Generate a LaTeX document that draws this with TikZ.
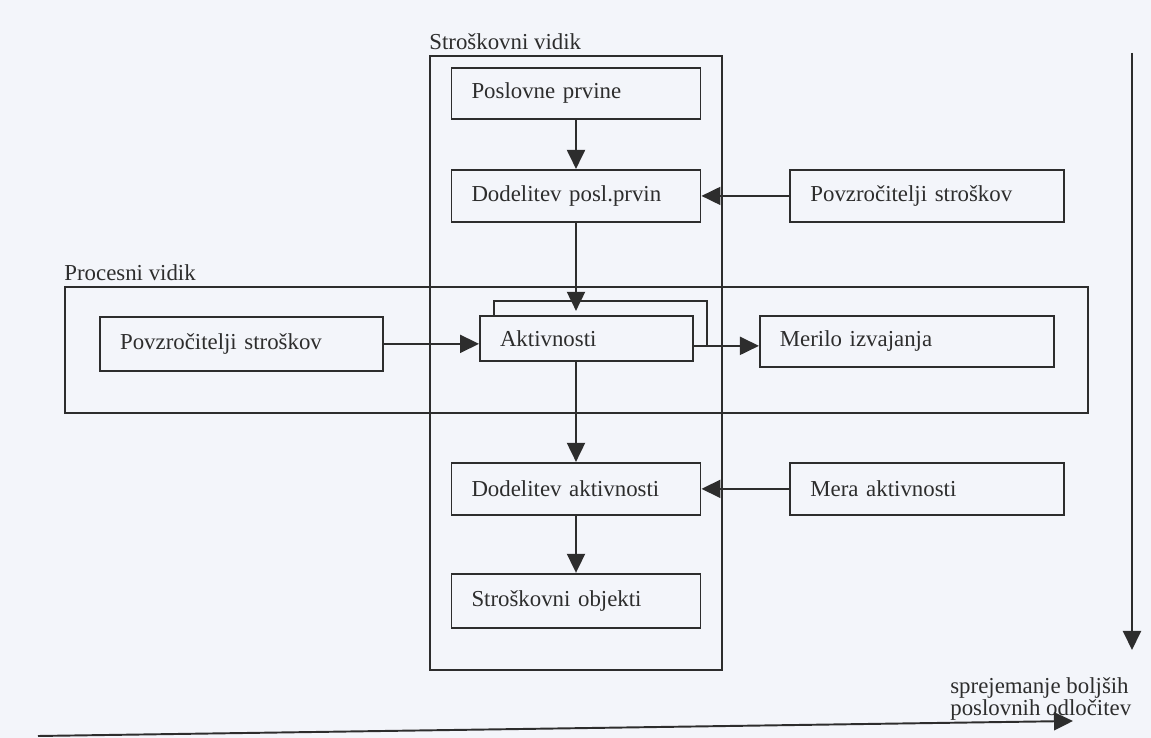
\documentclass[tikz,border=0pt]{standalone}
\usepackage{fontspec}
\setmainfont{Liberation Serif}
\usetikzlibrary{arrows.meta,positioning,shadows}
\definecolor{paper}{RGB}{243,245,250}
\definecolor{ink}{RGB}{45,45,45}

\begin{document}
\begin{tikzpicture}[
    font=\fontsize{13}{15.6}\selectfont,
    text=ink,
    elem/.style={rectangle, draw=ink, fill=paper, line width=1.1pt, text width=4.18cm, align=left, inner xsep=0.4cm, minimum height=1.04cm},
    outer/.style={elem, text width=4.68cm},
    view/.style={rectangle, draw=ink, line width=1.1pt, inner sep=0pt},
    tag/.style={anchor=south west, inner xsep=0pt, inner ysep=0.09cm},
    arrow/.style={-{Triangle[length=0.38cm,width=0.36cm]}, draw=ink, line width=1.1pt}
]
    \path[use as bounding box, fill=paper] (0,0) rectangle (23.02,-14.76);

    \node[view, minimum width=20.46cm, minimum height=2.52cm, label={[tag]north west:Procesni vidik}] (pv) at (11.53,-7.0) {};
    \node[view, minimum width=5.84cm, minimum height=12.28cm, label={[tag]north west:Stroškovni vidik}] (sv) at (11.52,-7.26) {};

    \node[elem, minimum height=1.02cm] (pp) at (11.52,-1.87) {Poslovne prvine};
    \node[elem, below=0.98cm of pp] (dp) {Dodelitev posl.prvin};
    \node[outer, right=1.76cm of dp] (pzd) {Povzročitelji stroškov};

    \node[elem, text width=3.46cm, minimum height=0.9cm, below=1.84cm of dp, xshift=0.21cm,
          copy shadow={shadow xshift=0.28cm, shadow yshift=0.3cm, draw=ink, fill=paper, line width=1.1pt}] (akt) {Aktivnosti};
    \node[elem, text width=5.08cm, minimum height=1.02cm, right=1.3cm of akt, yshift=-0.06cm] (mi) {Merilo izvajanja};
    \node[elem, text width=4.86cm, minimum height=1.08cm, left=1.9cm of akt, yshift=-0.11cm] (pzl) {Povzročitelji stroškov};

    \node[elem, below=4.78cm of dp] (da) {Dodelitev aktivnosti};
    \node[outer, right=1.76cm of da] (ma) {Mera aktivnosti};
    \node[elem, minimum height=1.08cm, below=1.14cm of da] (so) {Stroškovni objekti};

    \coordinate (aktin) at ([yshift=0.08cm]akt.north);
    \coordinate (aktout) at ([yshift=-0.15cm]akt.east);

    \draw[arrow] (pp) -- (dp);
    \draw[arrow] (pzd) -- (dp);
    \draw[arrow] (dp.south) -- (dp.south |- aktin);
    \draw[arrow] (pzl.east) -- (pzl.east -| akt.west);
    \draw[arrow] (aktout) -- (aktout -| mi.west);
    \draw[arrow] (da.north |- akt.south) -- (da.north);
    \draw[arrow] (ma) -- (da);
    \draw[arrow] (da) -- (so);

    \coordinate (dtop) at (22.64,-1.06);
    \coordinate (dbot) at (22.64,-13.0);
    \draw[arrow] (dtop) -- (dbot);

    \coordinate (hleft) at (0.76,-14.72);
    \coordinate (hright) at (21.46,-14.42);
    \draw[arrow] (hleft) -- (hright);
    \node[anchor=north west, inner sep=0pt, align=left, font=\fontsize{13}{12.5}\selectfont] (odl) at (19.0,-13.54) {sprejemanje boljših\\poslovnih odločitev};
\end{tikzpicture}
\end{document}
